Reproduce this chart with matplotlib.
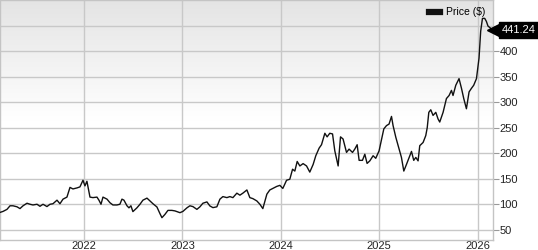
import numpy as np
import matplotlib
matplotlib.use("Agg")
import matplotlib.pyplot as plt
from matplotlib.colors import LinearSegmentedColormap

# weekly-ish closing prices (decimal year, price in $)
years = [
    2021.147, 2021.178, 2021.218, 2021.249, 2021.279, 2021.320, 2021.350, 2021.381,
    2021.421, 2021.452, 2021.482, 2021.523, 2021.553, 2021.584, 2021.624, 2021.655,
    2021.685, 2021.726, 2021.756, 2021.787, 2021.827, 2021.858, 2021.888, 2021.929,
    2021.959, 2021.990, 2022.010, 2022.030, 2022.061, 2022.091, 2022.132, 2022.152,
    2022.173, 2022.193, 2022.234, 2022.264, 2022.294, 2022.335, 2022.365, 2022.386,
    2022.406, 2022.437, 2022.457, 2022.477, 2022.497, 2022.538, 2022.569, 2022.599,
    2022.640, 2022.670, 2022.701, 2022.741, 2022.772, 2022.792, 2022.822, 2022.853,
    2022.893, 2022.924, 2022.975, 2023.005, 2023.046, 2023.076, 2023.107, 2023.147,
    2023.178, 2023.208, 2023.249, 2023.279, 2023.310, 2023.350, 2023.381, 2023.411,
    2023.452, 2023.482, 2023.513, 2023.553, 2023.584, 2023.614, 2023.655, 2023.685,
    2023.716, 2023.756, 2023.787, 2023.817, 2023.858, 2023.888, 2023.919, 2023.959,
    2023.990, 2024.020, 2024.058, 2024.091, 2024.119, 2024.142, 2024.166, 2024.193,
    2024.226, 2024.261, 2024.294, 2024.328, 2024.355, 2024.389, 2024.413, 2024.447,
    2024.470, 2024.497, 2024.525, 2024.548, 2024.582, 2024.606, 2024.632, 2024.667,
    2024.693, 2024.728, 2024.751, 2024.775, 2024.795, 2024.829, 2024.853, 2024.876,
    2024.904, 2024.937, 2024.964, 2024.998, 2025.022, 2025.046, 2025.073, 2025.099,
    2025.124, 2025.140, 2025.168, 2025.201, 2025.225, 2025.249, 2025.276, 2025.303,
    2025.327, 2025.350, 2025.371, 2025.394, 2025.411, 2025.445, 2025.472, 2025.487,
    2025.503, 2025.523, 2025.546, 2025.574, 2025.597, 2025.614, 2025.648, 2025.682,
    2025.709, 2025.733, 2025.749, 2025.777, 2025.810, 2025.835, 2025.858, 2025.885,
    2025.912, 2025.936, 2025.959, 2025.987, 2026.013, 2026.030, 2026.048, 2026.071,
    2026.088, 2026.104, 2026.129, 2026.142,
]
price = [
    84, 86, 90, 97, 97, 95, 91.5, 97,
    102, 100, 98.6, 100, 96, 100, 95.5, 100,
    101, 108, 101, 110, 114, 133, 130, 132,
    134, 147, 136, 145, 114, 113, 114, 108,
    100, 114, 110, 103, 98.6, 98.6, 100, 110,
    108, 97, 93, 97, 85.6, 93, 100, 108,
    112, 106.6, 101, 94.7, 81.6, 73.7, 80, 88,
    88, 87, 83.5, 86, 93, 97, 95.4, 90,
    95, 102, 104.6, 96.7, 93.4, 95, 110, 115,
    113, 115, 113, 121.7, 117.8, 121.7, 128, 113,
    111, 106.5, 100, 91.5, 119.8, 128, 131, 135,
    137, 131, 147, 149, 168.6, 165, 183.8, 175,
    179.6, 175, 163, 178, 195, 210, 216.6, 239,
    232, 239, 237.7, 204.7, 175, 232, 227.8, 201.5,
    208, 201.5, 208, 216.6, 186, 186, 198, 180,
    185, 195, 190, 204.7, 226, 247.6, 254, 257,
    272, 254, 231, 208, 191.7, 165, 178, 191.7,
    203.5, 186, 191.7, 185, 214.7, 221, 234.4, 250,
    280, 285, 274, 280, 267, 261, 280, 307,
    313, 323, 313, 333, 346, 327, 307, 287,
    320, 327, 333, 346, 386, 439, 464, 464,
    458, 449, 445, 441.24,
]
year_ticks = [2022, 2023, 2024, 2025, 2026]
price_ticks = [50, 100, 150, 200, 250, 300, 350, 400, 450]
last_label = "441.24"

plt.rcParams['font.family'] = ['Liberation Sans', 'DejaVu Sans']

fig = plt.figure(figsize=(5.38, 2.5), dpi=100)
ax = fig.add_axes([0, 10 / 250, 492.5 / 538, 240 / 250])

x0, x1 = 2021.147, 2026.15
y0, y1 = 30, 500

# grey-to-white background gradient (top half)
grad = np.linspace(1, 0, 256).reshape(-1, 1)
cmap = LinearSegmentedColormap.from_list("bg", ["#ffffff", "#ffffff", "#e4e4e4"])
ax.imshow(grad, aspect="auto", cmap=cmap, extent=[0, 1, 0, 1],
          transform=ax.transAxes, zorder=0, vmin=0, vmax=1)

ax.plot(years, price, color="#111111", lw=1.0, zorder=3, label="Price ($)")

ax.set_xlim(x0, x1)
ax.set_ylim(y0, y1)
ax.set_xticks(year_ticks)
ax.set_xticklabels([str(y) for y in year_ticks])
ax.set_yticks(price_ticks)
ax.yaxis.tick_right()
ax.grid(True, color="#c8c8c8", lw=1.0, zorder=1)
ax.set_axisbelow(True)
for s in ax.spines.values():
    s.set_color("#c4c4c4")
    s.set_linewidth(1.0)
ax.tick_params(axis="x", length=0, pad=0.5, labelsize=8, colors="#222222")
ax.tick_params(axis="y", length=4, width=0.8, pad=1, labelsize=8,
               colors="#999999", labelcolor="#222222")

leg = ax.legend(loc="upper right", frameon=False, fontsize=7.5,
                handlelength=1.0, handleheight=0.6, borderaxespad=0.3,
                handletextpad=0.6)
for h in leg.legend_handles:
    h.set_linewidth(4.5)

# last price tag
ax.annotate(last_label, xy=(1.0, price[-1]), xycoords=("axes fraction", "data"),
            xytext=(7, 0), textcoords="offset points", ha="left", va="center",
            color="white", fontsize=8, zorder=10, annotation_clip=False,
            bbox=dict(boxstyle="square,pad=0.25", fc="black", ec="black"))
ax.plot([1.0], [price[-1]], marker="<", ms=8.5, color="black",
        transform=ax.get_yaxis_transform(), clip_on=False, zorder=9)

fig.savefig("out.png", dpi=100)
